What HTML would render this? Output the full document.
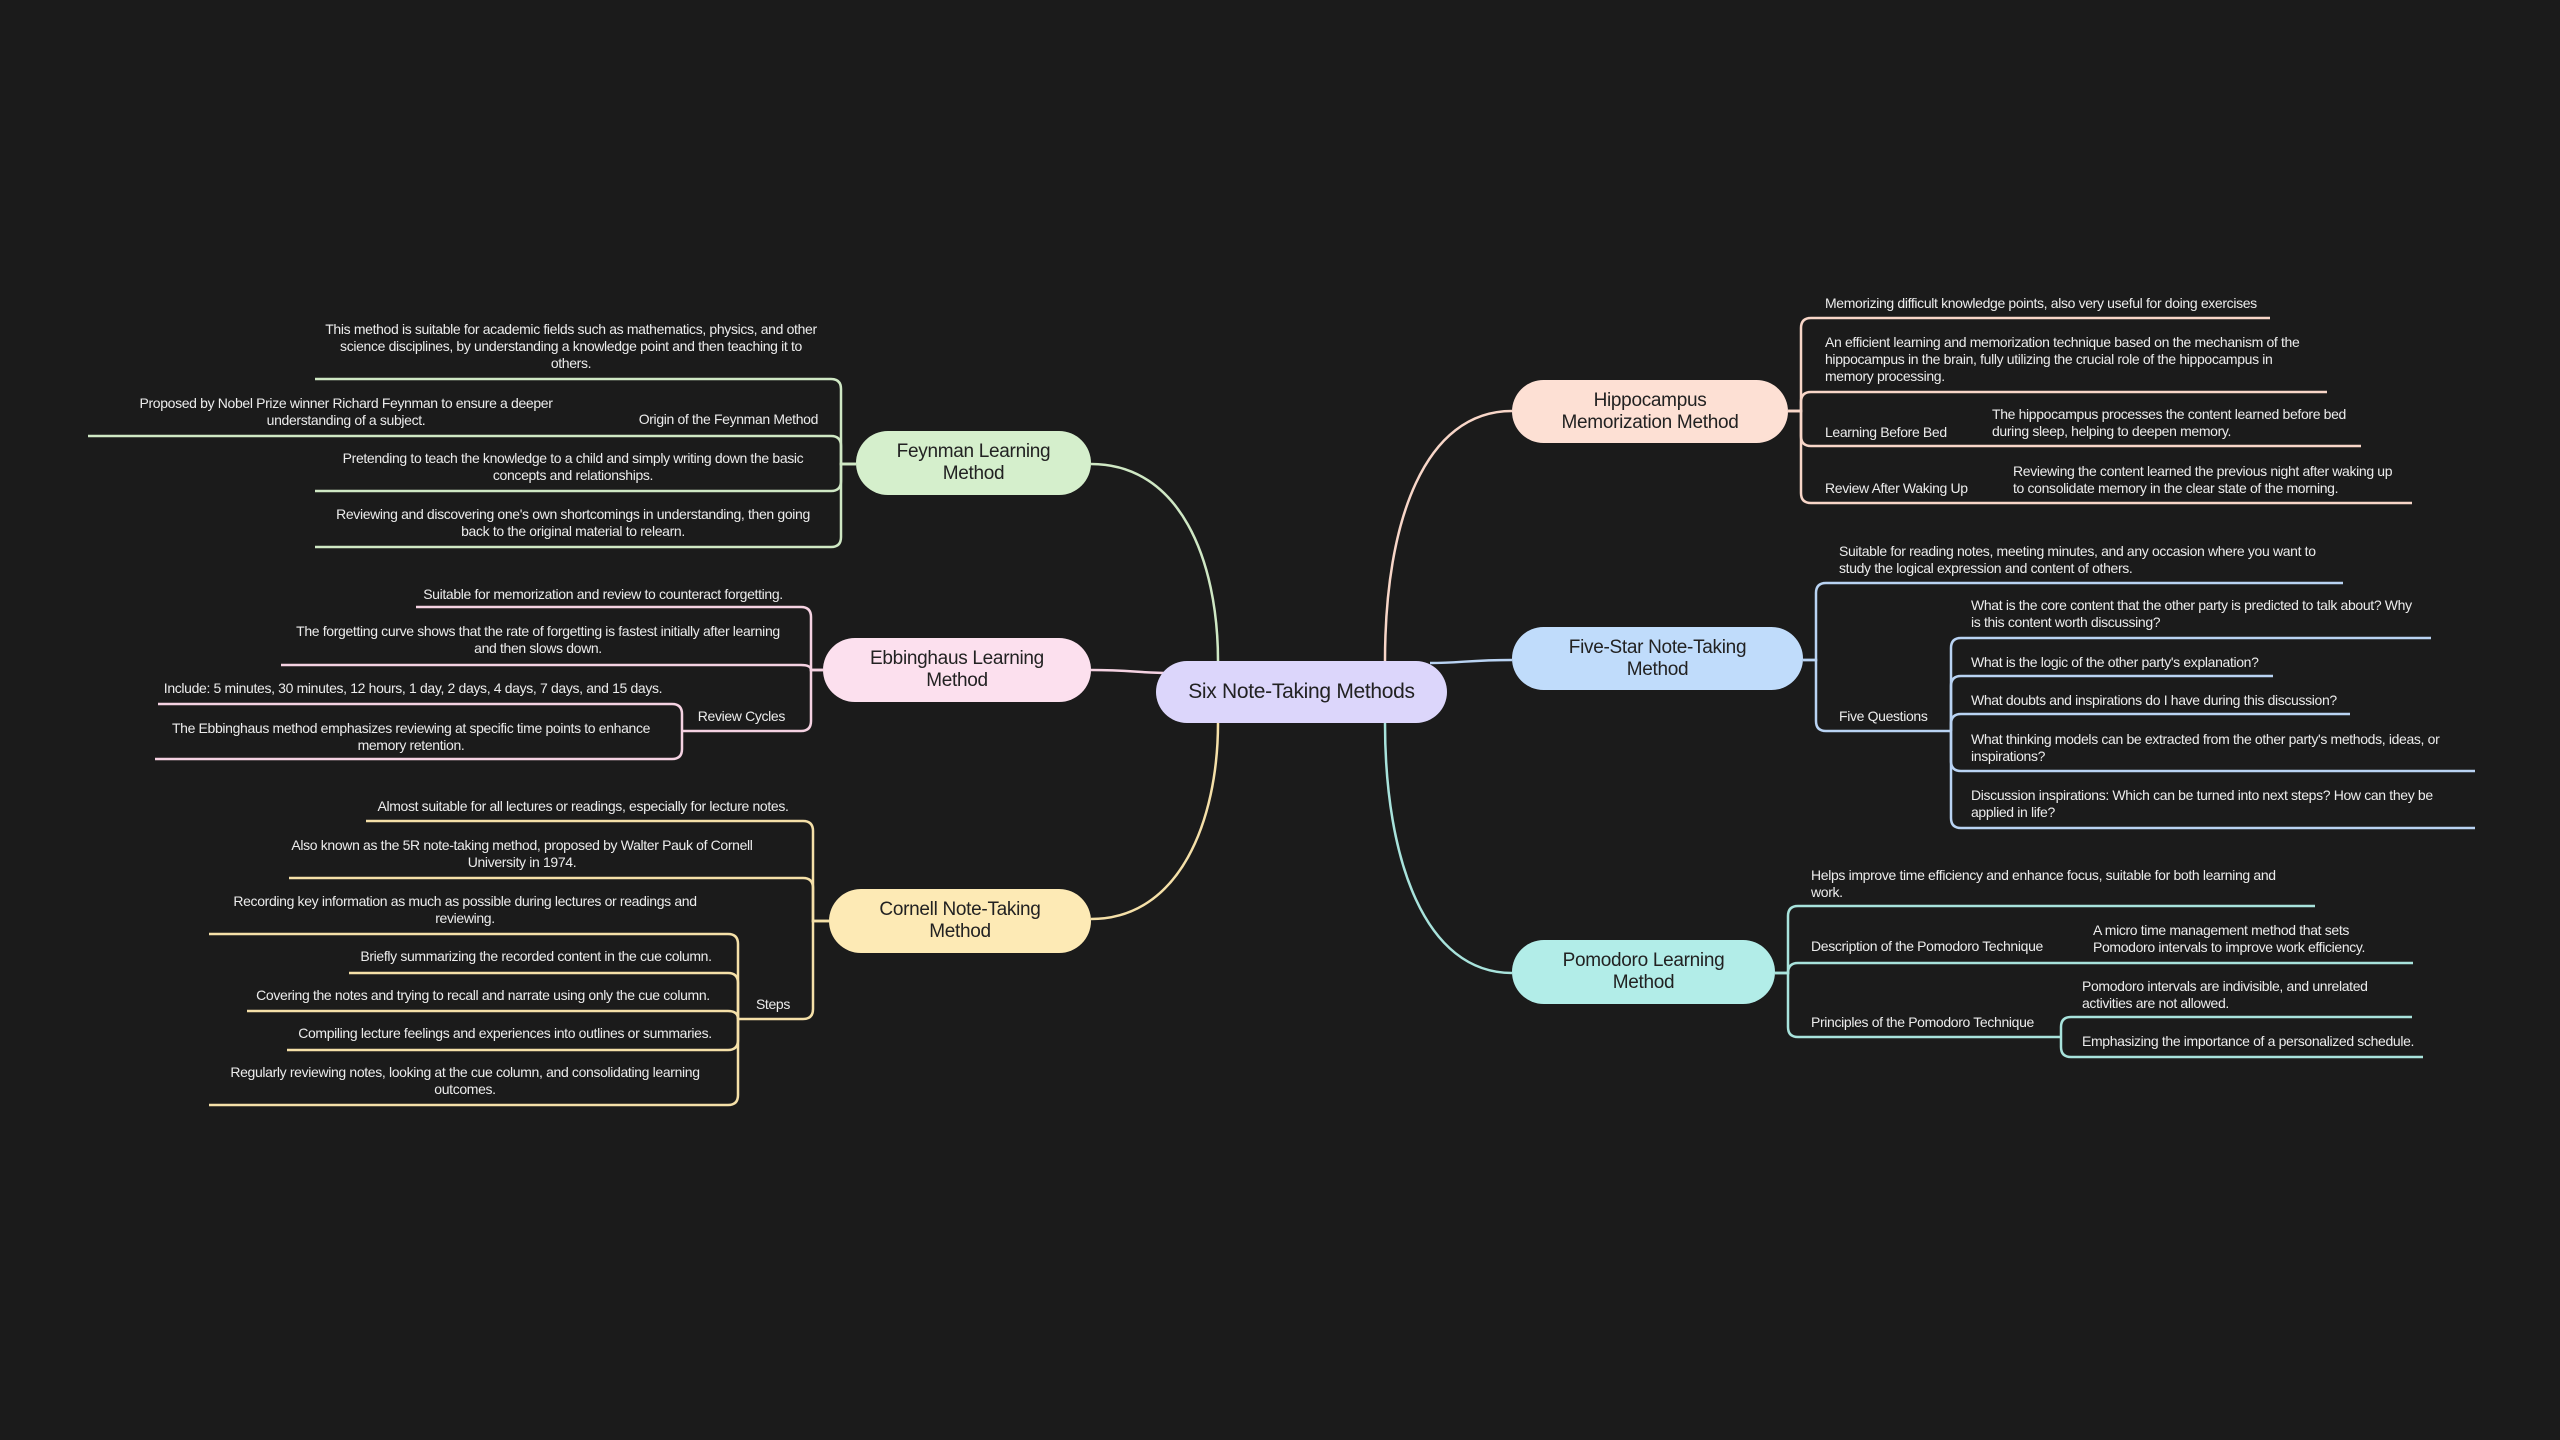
<!DOCTYPE html>
<html><head><meta charset="utf-8">
<style>
html,body{margin:0;padding:0;background:#1b1b1b;}
#wrap{position:relative;width:2560px;height:1440px;overflow:hidden;background:#1b1b1b;font-family:"Liberation Sans Narrow","Liberation Sans",sans-serif;}
.t{position:absolute;color:#ececec;font-size:14px;line-height:17px;white-space:nowrap;letter-spacing:-0.35px;}
.c{text-align:center;width:700px;}
.r{text-align:right;}
.n{position:absolute;display:flex;align-items:center;justify-content:center;text-align:center;color:#222;font-size:19px;line-height:22px;border-radius:32px;box-sizing:border-box;letter-spacing:-0.3px;}
svg{position:absolute;left:0;top:0;}
path{fill:none;stroke-width:2.5;}
</style></head><body><div id="wrap">
<svg width="2560" height="1440">
<g stroke="#cfe8c4">
<path d="M1091 464 C1180 464 1218 560 1218 661"/>
<path d="M856 464 H841 V389 Q841 379 831 379 H315"/>
<path d="M856 464 H841 V446 Q841 436 831 436 H88"/>
<path d="M856 464 H841 V481 Q841 491 831 491 H315"/>
<path d="M856 464 H841 V537 Q841 547 831 547 H315"/>
</g>
<g stroke="#f5d2e2">
<path d="M1091 670 C1130 670 1140 673 1170 673"/>
<path d="M823 670 H811 V617 Q811 607 801 607 H416"/>
<path d="M823 670 H811 Q811 665 801 665 H281"/>
<path d="M823 670 H811 V721 Q811 731 801 731 H682"/>
<path d="M682 731 V714 Q682 704 672 704 H158"/>
<path d="M682 731 V749 Q682 759 672 759 H155"/>
</g>
<g stroke="#f5e0a8">
<path d="M1091 919 C1180 919 1218 820 1218 723"/>
<path d="M829 921 H813 V831 Q813 821 803 821 H366"/>
<path d="M829 921 H813 V888 Q813 878 803 878 H289"/>
<path d="M829 921 H813 V1009 Q813 1019 803 1019 H738"/>
<path d="M738 1019 V944 Q738 934 728 934 H209"/>
<path d="M738 1019 V983 Q738 973 728 973 H349"/>
<path d="M738 1019 Q738 1011 728 1011 H247"/>
<path d="M738 1019 V1040 Q738 1050 728 1050 H287"/>
<path d="M738 1019 V1095 Q738 1105 728 1105 H209"/>
</g>
<g stroke="#f8d6c8">
<path d="M1512 411 C1425 411 1385 520 1385 661"/>
<path d="M1788 411 H1801 V328 Q1801 318 1811 318 H2270"/>
<path d="M1788 411 H1801 V402 Q1801 392 1811 392 H2327"/>
<path d="M1788 411 H1801 V436 Q1801 446 1811 446 H2361"/>
<path d="M1788 411 H1801 V493 Q1801 503 1811 503 H2412"/>
</g>
<g stroke="#b9d3f3">
<path d="M1512 660 C1470 660 1460 663 1430 663"/>
<path d="M1803 660 H1816 V593 Q1816 583 1826 583 H2343"/>
<path d="M1803 660 H1816 V721 Q1816 731 1826 731 H1951"/>
<path d="M1951 731 V648 Q1951 638 1961 638 H2431"/>
<path d="M1951 731 V686 Q1951 676 1961 676 H2273"/>
<path d="M1951 731 V724 Q1951 714 1961 714 H2350"/>
<path d="M1951 731 V761 Q1951 771 1961 771 H2475"/>
<path d="M1951 731 V818 Q1951 828 1961 828 H2475"/>
</g>
<g stroke="#a8e3dc">
<path d="M1512 973 C1425 973 1385 860 1385 723"/>
<path d="M1775 973 H1788 V916 Q1788 906 1798 906 H2315"/>
<path d="M1775 973 H1788 Q1788 963 1798 963 H2413"/>
<path d="M1775 973 H1788 V1027 Q1788 1037 1798 1037 H2061"/>
<path d="M2061 1037 V1027 Q2061 1017 2071 1017 H2412"/>
<path d="M2061 1037 V1047 Q2061 1057 2071 1057 H2423"/>
</g>
</svg>

<div class="n" style="left:1156px;top:661px;width:291px;height:62px;background:#dcd6fb;font-size:21px;">Six Note-Taking Methods</div>
<div class="n" style="left:856px;top:431px;width:235px;height:64px;background:#d5efcc;">Feynman Learning<br>Method</div>
<div class="n" style="left:823px;top:638px;width:268px;height:64px;background:#fce0ee;">Ebbinghaus Learning<br>Method</div>
<div class="n" style="left:829px;top:889px;width:262px;height:64px;background:#fdeab5;">Cornell Note-Taking<br>Method</div>
<div class="n" style="left:1512px;top:380px;width:276px;height:63px;background:#fde0d4;">Hippocampus<br>Memorization Method</div>
<div class="n" style="left:1512px;top:627px;width:291px;height:63px;background:#c0dcfb;">Five-Star Note-Taking<br>Method</div>
<div class="n" style="left:1512px;top:940px;width:263px;height:64px;background:#b2ede8;">Pomodoro Learning<br>Method</div>

<div class="t c" style="left:221px;top:321px;">This method is suitable for academic fields such as mathematics, physics, and other<br>science disciplines, by understanding a knowledge point and then teaching it to<br>others.</div>
<div class="t c" style="left:-4px;top:395px;">Proposed by Nobel Prize winner Richard Feynman to ensure a deeper<br>understanding of a subject.</div>
<div class="t r" style="right:1742px;top:411px;">Origin of the Feynman Method</div>
<div class="t c" style="left:223px;top:450px;">Pretending to teach the knowledge to a child and simply writing down the basic<br>concepts and relationships.</div>
<div class="t c" style="left:223px;top:506px;">Reviewing and discovering one's own shortcomings in understanding, then going<br>back to the original material to relearn.</div>

<div class="t c" style="left:253px;top:586px;">Suitable for memorization and review to counteract forgetting.</div>
<div class="t c" style="left:188px;top:623px;">The forgetting curve shows that the rate of forgetting is fastest initially after learning<br>and then slows down.</div>
<div class="t r" style="right:1775px;top:708px;">Review Cycles</div>
<div class="t c" style="left:63px;top:680px;">Include: 5 minutes, 30 minutes, 12 hours, 1 day, 2 days, 4 days, 7 days, and 15 days.</div>
<div class="t c" style="left:61px;top:720px;">The Ebbinghaus method emphasizes reviewing at specific time points to enhance<br>memory retention.</div>

<div class="t c" style="left:233px;top:798px;">Almost suitable for all lectures or readings, especially for lecture notes.</div>
<div class="t c" style="left:172px;top:837px;">Also known as the 5R note-taking method, proposed by Walter Pauk of Cornell<br>University in 1974.</div>
<div class="t r" style="right:1770px;top:996px;">Steps</div>
<div class="t c" style="left:115px;top:893px;">Recording key information as much as possible during lectures or readings and<br>reviewing.</div>
<div class="t c" style="left:186px;top:948px;">Briefly summarizing the recorded content in the cue column.</div>
<div class="t c" style="left:133px;top:987px;">Covering the notes and trying to recall and narrate using only the cue column.</div>
<div class="t c" style="left:155px;top:1025px;">Compiling lecture feelings and experiences into outlines or summaries.</div>
<div class="t c" style="left:115px;top:1064px;">Regularly reviewing notes, looking at the cue column, and consolidating learning<br>outcomes.</div>

<div class="t" style="left:1825px;top:295px;">Memorizing difficult knowledge points, also very useful for doing exercises</div>
<div class="t" style="left:1825px;top:334px;">An efficient learning and memorization technique based on the mechanism of the<br>hippocampus in the brain, fully utilizing the crucial role of the hippocampus in<br>memory processing.</div>
<div class="t" style="left:1825px;top:424px;">Learning Before Bed</div>
<div class="t" style="left:1992px;top:406px;">The hippocampus processes the content learned before bed<br>during sleep, helping to deepen memory.</div>
<div class="t" style="left:1825px;top:480px;">Review After Waking Up</div>
<div class="t" style="left:2013px;top:463px;">Reviewing the content learned the previous night after waking up<br>to consolidate memory in the clear state of the morning.</div>

<div class="t" style="left:1839px;top:543px;">Suitable for reading notes, meeting minutes, and any occasion where you want to<br>study the logical expression and content of others.</div>
<div class="t" style="left:1839px;top:708px;">Five Questions</div>
<div class="t" style="left:1971px;top:597px;">What is the core content that the other party is predicted to talk about? Why<br>is this content worth discussing?</div>
<div class="t" style="left:1971px;top:654px;">What is the logic of the other party's explanation?</div>
<div class="t" style="left:1971px;top:692px;">What doubts and inspirations do I have during this discussion?</div>
<div class="t" style="left:1971px;top:731px;">What thinking models can be extracted from the other party's methods, ideas, or<br>inspirations?</div>
<div class="t" style="left:1971px;top:787px;">Discussion inspirations: Which can be turned into next steps? How can they be<br>applied in life?</div>

<div class="t" style="left:1811px;top:867px;">Helps improve time efficiency and enhance focus, suitable for both learning and<br>work.</div>
<div class="t" style="left:1811px;top:938px;">Description of the Pomodoro Technique</div>
<div class="t" style="left:2093px;top:922px;">A micro time management method that sets<br>Pomodoro intervals to improve work efficiency.</div>
<div class="t" style="left:1811px;top:1014px;">Principles of the Pomodoro Technique</div>
<div class="t" style="left:2082px;top:978px;">Pomodoro intervals are indivisible, and unrelated<br>activities are not allowed.</div>
<div class="t" style="left:2082px;top:1033px;">Emphasizing the importance of a personalized schedule.</div>
</div></body></html>
